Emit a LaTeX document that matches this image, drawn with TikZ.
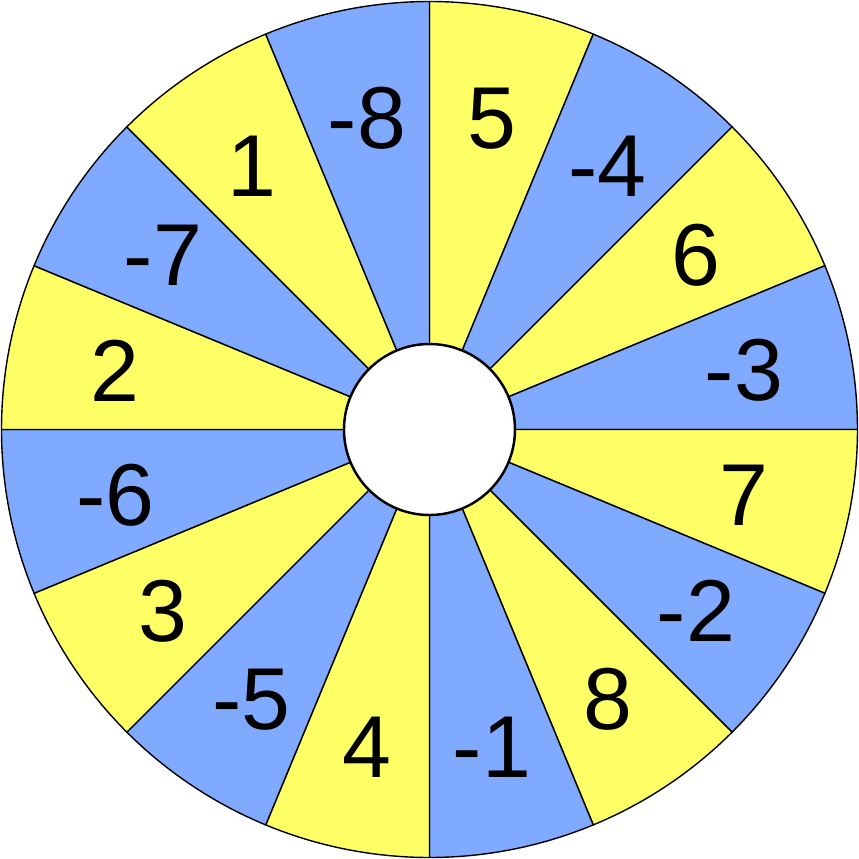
\documentclass[tikz,border=0pt]{standalone}
\usepackage{fontspec}
\setmainfont{Liberation Sans}
\usetikzlibrary{positioning}
\definecolor{wheelyellow}{RGB}{255,255,102}
\definecolor{wheelblue}{RGB}{128,170,255}

\begin{document}
\begin{tikzpicture}[
  sector/.style={draw=black, line width=0.4pt, line join=round},
  num/.style={font=\fontsize{25}{30}\selectfont, inner sep=0pt, yshift=-0.035cm},
  hub/.style={circle, draw=black, fill=white, line width=0.7pt, minimum size=1.71cm, inner sep=0pt}
]
\useasboundingbox (-4.295,-4.295) rectangle (4.295,4.295);
\foreach \lab/\col [count=\i from 0] in {5/wheelyellow, -4/wheelblue, 6/wheelyellow, -3/wheelblue,
  7/wheelyellow, -2/wheelblue, 8/wheelyellow, -1/wheelblue, 4/wheelyellow, -5/wheelblue,
  3/wheelyellow, -6/wheelblue, 2/wheelyellow, -7/wheelblue, 1/wheelyellow, -8/wheelblue} {
  \pgfmathsetmacro{\a}{90-22.5*\i}
  \pgfmathsetmacro{\b}{\a-22.5}
  \pgfmathsetmacro{\m}{\a-11.25}
  \filldraw[sector, fill=\col] (0,0) -- (\a:4.28) arc[start angle=\a, end angle=\b, radius=4.28] -- cycle;
  \node[num] (n\i) at (\m:3.205) {\lab};
}
\node[hub] (hub) at (0,0) {};
\end{tikzpicture}
\end{document}
